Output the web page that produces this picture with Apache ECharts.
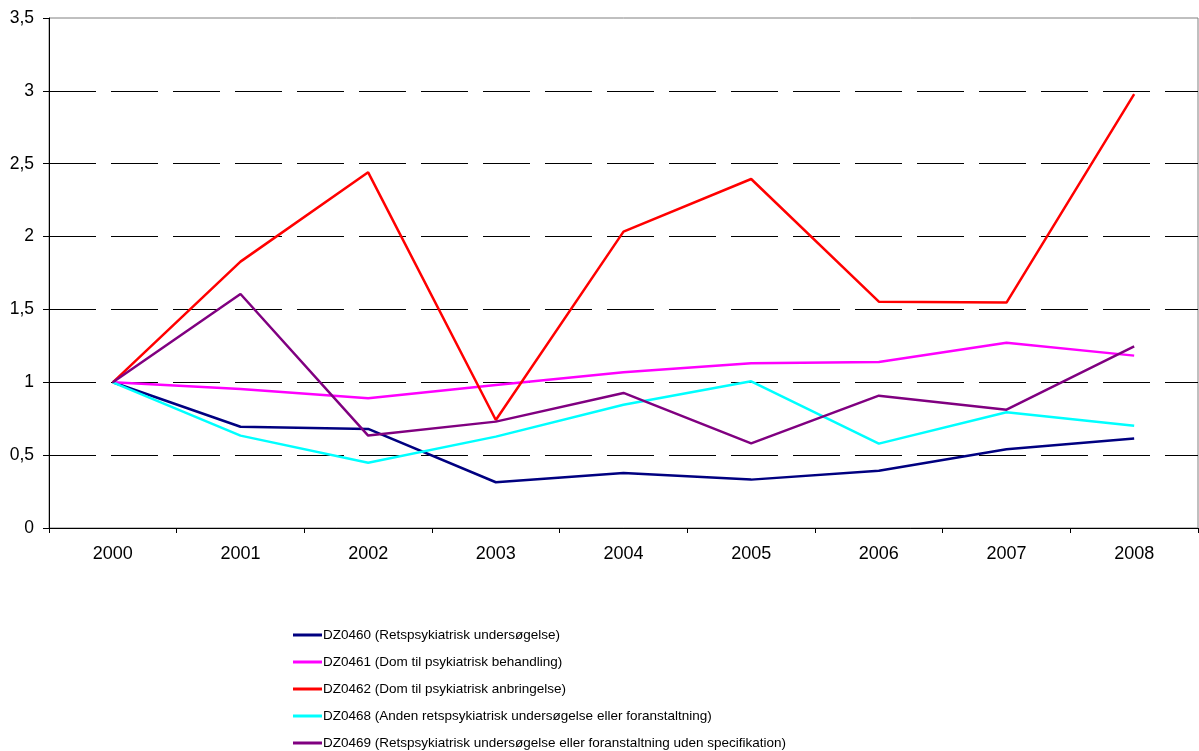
<!DOCTYPE html>
<html>
<head>
<meta charset="utf-8">
<script src="https://cdn.jsdelivr.net/npm/echarts@6/dist/echarts.min.js"></script>
<style>html,body{margin:0;padding:0;background:#fff}#c{width:1199px;height:751px}</style>
</head>
<body>
<div id="c"></div>
<script>
const years = ['2000','2001','2002','2003','2004','2005','2006','2007','2008'];
const seriesNames = [
  'DZ0460 (Retspsykiatrisk undersøgelse)',
  'DZ0461 (Dom til psykiatrisk behandling)',
  'DZ0462 (Dom til psykiatrisk anbringelse)',
  'DZ0468 (Anden retspsykiatrisk undersøgelse eller foranstaltning)',
  'DZ0469 (Retspsykiatrisk undersøgelse eller foranstaltning uden specifikation)'
];
const dz0460 = [1, 0.695, 0.68, 0.314, 0.377, 0.332, 0.393, 0.54, 0.615];
const dz0461 = [1, 0.954, 0.89, 0.981, 1.069, 1.13, 1.139, 1.272, 1.183];
const dz0462 = [1, 1.828, 2.441, 0.741, 2.034, 2.395, 1.553, 1.547, 2.977];
const dz0468 = [1, 0.634, 0.448, 0.627, 0.846, 1.007, 0.579, 0.794, 0.702];
const dz0469 = [1, 1.606, 0.634, 0.73, 0.927, 0.581, 0.908, 0.812, 1.247];
const colors = ['#000080', '#FF00FF', '#FF0000', '#00FFFF', '#800080'];
const allData = [dz0460, dz0461, dz0462, dz0468, dz0469];

const chart = echarts.init(document.getElementById('c'));
const font = 'Liberation Sans, Arial, sans-serif';
chart.setOption({
  animation: false,
  backgroundColor: '#fff',
  textStyle: { fontFamily: font },
  grid: { left: 49, top: 18, right: 1, bottom: 223, show: true, borderColor: '#808080', borderWidth: 1, backgroundColor: 'transparent' },
  xAxis: {
    type: 'category',
    data: years,
    boundaryGap: true,
    axisLine: { lineStyle: { color: '#000', width: 1 } },
    axisTick: { show: true, length: 5, lineStyle: { color: '#000' } },
    axisLabel: { color: '#000', fontSize: 18, fontFamily: font, margin: 17 },
    splitLine: { show: false }
  },
  yAxis: {
    type: 'value',
    min: 0, max: 3.5, interval: 0.5,
    axisLine: { show: true, lineStyle: { color: '#000', width: 1 } },
    axisTick: { show: true, length: 6, lineStyle: { color: '#000' } },
    axisLabel: { color: '#000', fontSize: 17.5, fontFamily: font, margin: 15,
      formatter: v => String(v).replace('.', ',') },
    splitLine: { show: true, lineStyle: { color: ['#000','#000','#000','#000','#000','#000','#000','transparent'], width: 1, type: [47, 15] } }
  },
  legend: {
    orient: 'vertical',
    left: 293,
    top: 628,
    padding: 0,
    height: 130,
    icon: 'rect',
    itemWidth: 29,
    itemHeight: 3,
    itemGap: 13,
    textStyle: { color: '#000', fontSize: 13.5, fontFamily: font, padding: [0,0,0,-4] },
    data: seriesNames
  },
  series: seriesNames.map((n, i) => ({
    name: n,
    type: 'line',
    data: allData[i],
    symbol: 'none',
    color: colors[i],
    lineStyle: { width: 2.5, color: colors[i] }
  }))
});
</script>
</body>
</html>
